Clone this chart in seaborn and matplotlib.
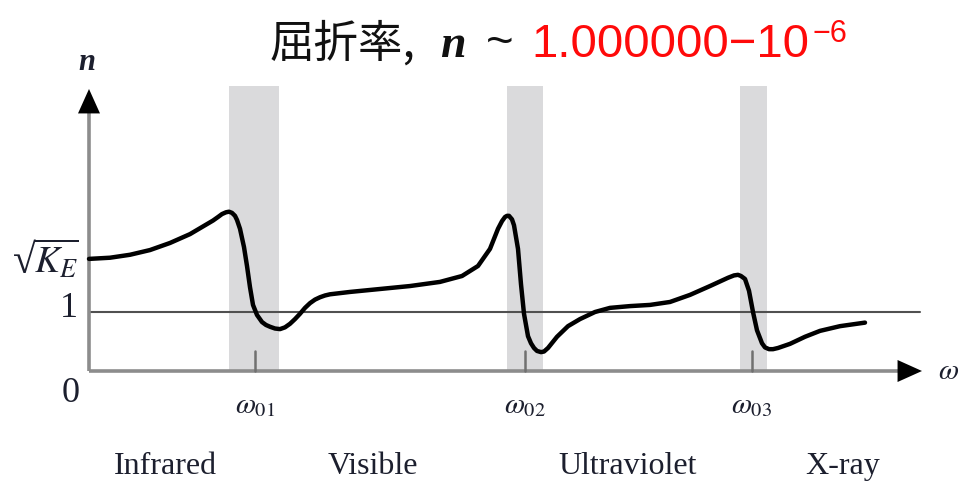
import matplotlib
matplotlib.use("Agg")
import matplotlib.pyplot as plt
import seaborn as sns

# Refractive index n versus angular frequency omega (schematic dispersion curve)
omega = [0, 21, 41, 61, 81, 101, 116, 124, 129, 133, 137, 140, 143, 146, 148, 151,
         155, 158, 161, 164, 168, 173, 177, 181, 186, 191, 196, 201, 206, 211, 216,
         221, 226, 231, 236, 241, 261, 291, 321, 351, 373, 389, 401, 409, 413, 416,
         418, 420, 423, 425, 429, 432, 435, 439, 442, 445, 448, 452, 455, 459, 468,
         479, 491, 506, 521, 541, 561, 581, 601, 621, 639, 645, 649, 652, 656, 660,
         664, 668, 673, 676, 680, 684, 689, 701, 716, 731, 751, 776]
n_curve = [1.90, 1.92, 1.97, 2.05, 2.17, 2.32, 2.47, 2.55, 2.61, 2.66, 2.69, 2.70,
           2.68, 2.63, 2.56, 2.41, 2.10, 1.78, 1.42, 1.12, 0.95, 0.83, 0.78, 0.75,
           0.72, 0.71, 0.74, 0.80, 0.88, 0.97, 1.07, 1.15, 1.21, 1.25, 1.28, 1.30,
           1.34, 1.39, 1.44, 1.51, 1.61, 1.78, 2.07, 2.41, 2.54, 2.61, 2.63, 2.63,
           2.57, 2.47, 2.07, 1.47, 0.97, 0.59, 0.47, 0.39, 0.34, 0.32, 0.33, 0.39,
           0.58, 0.76, 0.88, 1.00, 1.07, 1.10, 1.12, 1.17, 1.29, 1.44, 1.58, 1.62,
           1.63, 1.61, 1.56, 1.36, 1.00, 0.69, 0.47, 0.40, 0.37, 0.37, 0.39, 0.46,
           0.58, 0.68, 0.76, 0.82]

# Absorption bands around the resonance frequencies
band_lo = [140, 418, 651]
band_hi = [190, 454, 678]
resonance = [166, 436, 663]
resonance_labels = [r"$\omega_{01}$", r"$\omega_{02}$", r"$\omega_{03}$"]

# Spectral regions
region_labels = ["Infrared", "Visible", "Ultraviolet", "X-ray"]
region_x = [76, 284, 539, 754]

# Levels marked on the n axis
n_levels = [1.90, 1.0, 0.0]
n_level_labels = [r"$\overline{K_E}$", "1", "0"]

W, H = 959, 485
sns.set_theme(style="white")
plt.rcParams["mathtext.fontset"] = "stix"
plt.rcParams["font.family"] = ["Liberation Serif", "DejaVu Serif"]

fig = plt.figure(figsize=(W / 100, H / 100), dpi=100)
ax = fig.add_axes([0, 0, 1, 1])
ax.set_xlim(-89, 870)
ax.set_ylim(-113 / 59, 372 / 59)
ax.axis("off")

band_color = "#dadadc"
axis_gray = "#8c8c8c"

for lo, hi in zip(band_lo, band_hi):
    ax.axvspan(lo, hi, ymin=113 / 485, ymax=(113 + 285) / 485,
               color=band_color, lw=0, zorder=0)

# reference line n = 1
ax.plot([0, 831], [1, 1], color="#505050", lw=1.5, zorder=1)

# axes with arrow heads
ax.plot([0, 815], [0, 0], color=axis_gray, lw=2.6, zorder=2, solid_capstyle="butt")
ax.plot([0, 0], [0, 4.4], color=axis_gray, lw=2.6, zorder=2, solid_capstyle="butt")
head = dict(arrowstyle="-|>,head_length=0.8,head_width=0.36", color="black",
            lw=0, shrinkA=0, shrinkB=0, mutation_scale=22)
ax.annotate("", xy=(833, 0), xytext=(790, 0), arrowprops=head, zorder=4)
ax.annotate("", xy=(0, 4.78), xytext=(0, 4.2), arrowprops=head, zorder=4)

# resonance tick marks
for r in resonance:
    ax.plot([r, r], [0, 0.34], color="#707070", lw=1.8, zorder=2)

# dispersion curve
sns.lineplot(x=omega, y=n_curve, sort=False, estimator=None, color="black",
             lw=3.2, ax=ax, zorder=3, solid_joinstyle="round",
             solid_capstyle="round")

text_color = "#1c1f2e"
# labels on the n axis: radical sign followed by the overlined K_E
ax.text(-53, n_levels[0] - 0.22, "\u221a", ha="right", va="baseline",
        fontsize=30, color=text_color)
ax.text(-55, n_levels[0] - 0.22, n_level_labels[0], ha="left", va="baseline",
        fontsize=27, color=text_color)
ax.text(-11, n_levels[1] + 0.07, n_level_labels[1], ha="right", va="center",
        fontsize=26, color=text_color)
ax.text(-9, n_levels[2] - 0.37, n_level_labels[2], ha="right", va="center",
        fontsize=26, color=text_color)
ax.text(-2, 5.25, "n", ha="center", va="center", fontsize=22, style="italic",
        weight="bold", color=text_color)
ax.text(849, 0, r"$\omega$", ha="left", va="center", fontsize=21, color=text_color)

for r, lab in zip(resonance, resonance_labels):
    ax.text(r, -0.58, lab, ha="center", va="center", fontsize=21, color=text_color)

for x, lab in zip(region_x, region_labels):
    ax.text(x, -1.6, lab, ha="center", va="center", fontsize=23, color=text_color)

# title assembled piece by piece
fig.canvas.draw()
renderer = fig.canvas.get_renderer()
pieces = [
    ("屈折率,", dict(family=["Noto Sans CJK JP", "DejaVu Sans"], fontsize=32,
                     color="#111111"), 57, 24),
    ("n", dict(family=["Liberation Serif"], fontsize=33, style="italic",
               weight="bold", color="#111111"), 57, 20),
    ("~", dict(family=["Liberation Sans"], fontsize=34, color="#111111"), 56, 18),
    ("1.000000\u221210", dict(family=["Liberation Sans"], fontsize=34,
                               color="#ff0a0a"), 57, 3),
    ("\u22126", dict(family=["Liberation Sans"], fontsize=22, color="#ff0a0a"),
     42, 0),
]
x_px = 270
for s, kw, base, gap in pieces:
    t = fig.text(x_px / W, 1 - base / H, s, ha="left", va="baseline", **kw)
    bb = t.get_window_extent(renderer)
    x_px = bb.x1 + gap

fig.savefig("out.png", dpi=100)
